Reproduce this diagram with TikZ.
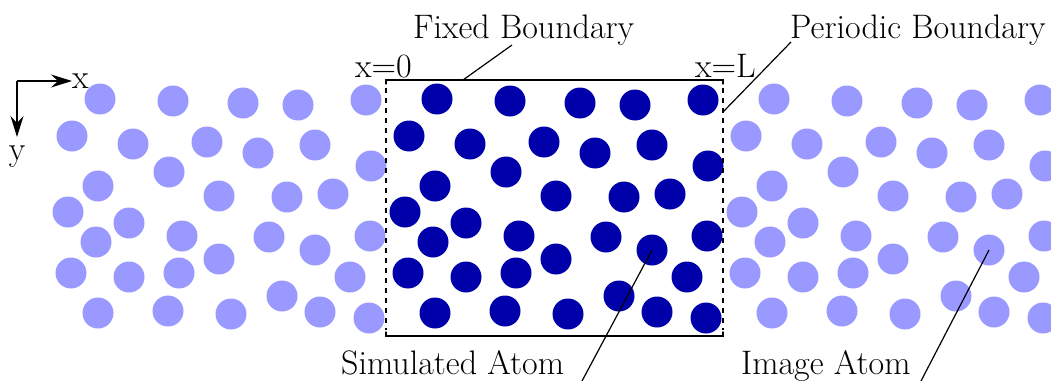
\documentclass[tikz,border=0pt]{standalone}
\usetikzlibrary{arrows.meta}
\definecolor{simcol}{RGB}{0,0,170}
\definecolor{imgcol}{RGB}{153,153,255}
\begin{document}
\begin{tikzpicture}[x=1pt,y=-1pt,
  atom/.style={circle,minimum size=31pt,inner sep=0pt,draw=none},
  simatom/.style={atom,fill=simcol},
  imgatom/.style={atom,fill=imgcol},
  lbl/.style={anchor=base west,inner sep=0pt,font=\fontsize{34}{40}\selectfont},
  frame/.style={line width=1.3pt,line cap=round},
  dashframe/.style={line width=1.2pt,dash pattern=on 5pt off 5pt},
  leader/.style={line width=1.2pt},
  axis/.style={line width=1.3pt,-{Stealth[length=21pt,width=13pt,inset=7pt]}}]
\useasboundingbox (0,0) rectangle (1051,380);
\clip (0,0) rectangle (1051,380);
\def\atoms{437/99, 510/101, 580/103, 635/105, 703/100,
  409/136, 470/144, 544/142, 595/153, 652/145, 708/166,
  506/172, 435/186, 556/196, 624/197, 670/194,
  405/212, 466/223, 433/242, 519/236, 606/237, 707/236,
  652/250, 556/259, 408/273, 466/277, 516/273, 687/277,
  619/296, 435/313, 505/311, 568/314, 657/312, 706/318}
% image atoms
\foreach \x/\y [count=\i] in \atoms {
  \node[imgatom] (l\i) at (\x-337,\y) {};
  \node[imgatom] (r\i) at (\x+337,\y) {};
}
% simulated atoms
\foreach \x/\y [count=\i] in \atoms {
  \node[simatom] (s\i) at (\x,\y) {};
}
% frame
\coordinate (tl) at (386,80);
\coordinate (tr) at (723,80);
\coordinate (bl) at (386,336);
\coordinate (br) at (723,336);
\draw[frame] ([yshift=-4pt]tl) -- (tl) -- (tr) -- ([yshift=-4pt]tr);
\draw[frame] ([yshift=4pt]bl) -- (bl) -- (br) -- ([yshift=4pt]br);
\draw[dashframe] ([yshift=-8pt]tl) -- ([yshift=6pt]bl);
\draw[dashframe] ([yshift=-8pt]tr) -- ([yshift=6pt]br);
% axes
\coordinate (o) at (17,81);
\coordinate (xe) at (72,81);
\coordinate (ye) at (17,137);
\draw[axis] (o) -- (xe);
\draw[axis] (o) -- (ye);
\node[lbl] (xl) at (72,88) {x};
\node[lbl,anchor=base] (yl) at (17,160) {y};
% labels
\node[lbl] (fixed) at (413,38) {Fixed Boundary};
\node[lbl] (periodic) at (790,38) {Periodic Boundary};
\node[lbl] (x0) at (355,77) {x=0};
\node[lbl] (xL) at (695,77) {x=L};
\node[lbl] (simlbl) at (341,374) {Simulated Atom};
\node[lbl] (imglbl) at (741,374) {Image Atom};
% leaders
\coordinate (fb1) at (463,80);
\coordinate (fb2) at (512,45);
\coordinate (pb1) at (723,112);
\coordinate (pb2) at (791,42);
\coordinate (se) at (582,381);
\coordinate (ie) at (921,381);
\draw[leader] (fb1) -- (fb2);
\draw[leader] (pb1) -- (pb2);
\draw[leader] (s23.center) -- (se);
\draw[leader] (r23.center) -- (ie);
\end{tikzpicture}
\end{document}
